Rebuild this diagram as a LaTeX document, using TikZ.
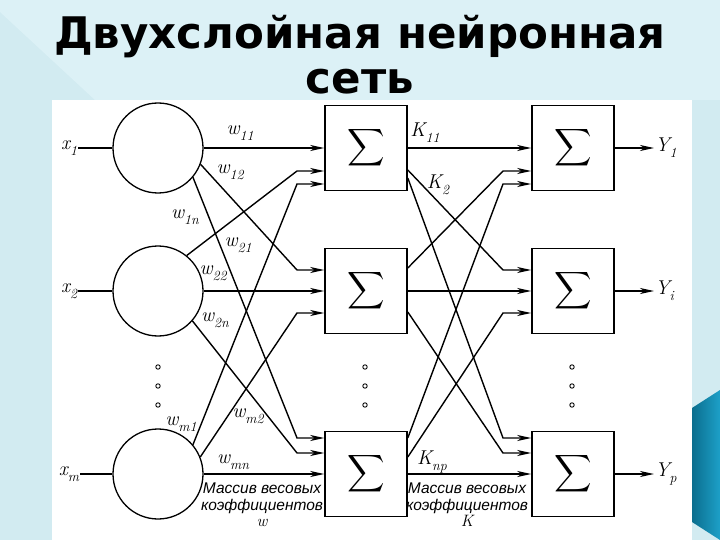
\documentclass[tikz,border=0pt]{standalone}
\usepackage{fontspec}
\usetikzlibrary{arrows.meta,calc}
\newfontfamily\titlefont{DejaVu Sans Bold}
\newfontfamily\captfont{Liberation Sans}
\definecolor{bgc}{HTML}{D2EBF1}
\definecolor{bgl}{HTML}{DCF1F6}
\definecolor{tealA}{HTML}{0B6E8E}
\definecolor{tealB}{HTML}{1DA0C8}
\tikzset{
  wire/.style={line width=1.4pt, black},
  arr/.style={wire, -{Stealth[length=14pt,width=6pt,inset=4pt]}},
  neuron/.style={circle, draw, line width=1.3pt, minimum size=90pt, inner sep=0pt},
  sumbox/.style={rectangle, draw, line width=1.6pt, minimum width=82pt, minimum height=85pt, inner sep=0pt},
  lbl/.style={inner sep=1pt, font=\itshape\fontsize{20}{22}\selectfont},
  dotc/.style={line width=0.9pt},
  arrtext/.style={align=center, inner sep=0pt, font=\captfont\itshape\fontsize{15.5}{16.5}\selectfont},
  titletext/.style={inner sep=0pt, align=center, font=\titlefont\fontsize{43.5}{45}\selectfont}
}
\newcommand{\sumsign}{\scalebox{2.6}{$\displaystyle\sum$}}
\newcommand{\ws}[2]{#1\raisebox{-0.3em}{\fontsize{14}{14}\selectfont #2}}
\newcommand{\bigit}[1]{{\rmfamily\itshape\fontsize{16.5}{16.5}\selectfont #1}}
\begin{document}
\begin{tikzpicture}[x=1pt,y=-1pt]
\useasboundingbox (0,0) rectangle (720,540);
% background
\fill[bgc] (0,0) rectangle (720,540);
\fill[bgl] (0,0) -- (0,12) -- (95,100) -- (720,100) -- (720,0) -- cycle;
\fill[white] (52,100) rectangle (692,540);
\shade[left color=tealA, right color=tealB] (692,408) -- (720,390) -- (720,540) -- (692,522) -- cycle;
% title
\node[titletext, anchor=base] (t1) at (360,94) {Двухслойная нейронная\\сеть};
% input neurons
\node[neuron] (c1) at (158,148) {};
\node[neuron] (c2) at (158,291) {};
\node[neuron] (c3) at (158,474) {};
% layer 1 boxes
\node[sumbox] (b11) at (366,148) {\sumsign};
\node[sumbox] (b12) at (366,291) {\sumsign};
\node[sumbox] (b13) at (366,474) {\sumsign};
% layer 2 boxes
\node[sumbox] (b21) at (573,148) {\sumsign};
\node[sumbox] (b22) at (573,291) {\sumsign};
\node[sumbox] (b23) at (573,474) {\sumsign};
% inputs
\node[lbl] (lx1) at (69,148) {\ws{x}{1}};
\node[lbl] (lx2) at (69,291) {\ws{x}{2}};
\node[lbl] (lx3) at (69,474) {\ws{x}{m}};
\draw[wire] (lx1) -- (c1);
\draw[wire] (lx2) -- (c2);
\draw[wire] (lx3) -- (c3);
% bend coordinates layer 1
\coordinate (p1) at (297,171);
\coordinate (p2) at (297,184);
\coordinate (p3) at (297,270);
\coordinate (p4) at (297,313);
\coordinate (p5) at (297,438);
\coordinate (p6) at (297,453);
% layer 1 connections
\draw[arr] (c1) -- (b11);
\draw[arr] (c2) -- (b12);
\draw[arr] (c3) -- (b13);
\draw[arr] (c2.51) -- (p1) -- (b11.west |- p1);
\draw[arr] (c3.40) -- (p2) -- (b11.west |- p2);
\draw[arr] (c1.-21) -- (p3) -- (b12.west |- p3);
\draw[arr] (c3.22) -- (p4) -- (b12.west |- p4);
\draw[arr] (c1.-40) -- (p5) -- (b13.west |- p5);
\draw[arr] (c2.-41) -- (p6) -- (b13.west |- p6);
% bend coordinates layer 2
\coordinate (q1) at (503,171);
\coordinate (q2) at (503,184);
\coordinate (q3) at (503,270);
\coordinate (q4) at (503,313);
\coordinate (q5) at (503,438);
\coordinate (q6) at (503,453);
% layer 2 connections
\draw[arr] (b11) -- (b21);
\draw[arr] (b12) -- (b22);
\draw[arr] (b13) -- (b23);
\draw[arr] ($(b11.east)+(0,22)$) -- (q3) -- (b22.west |- q3);
\draw[arr] ($(b11.east)+(0,30)$) -- (q5) -- (b23.west |- q5);
\draw[arr] ($(b12.east)+(0,-23)$) -- (q1) -- (b21.west |- q1);
\draw[arr] ($(b12.east)+(0,21)$) -- (q6) -- (b23.west |- q6);
\draw[arr] ($(b13.east)+(0,-36)$) -- (q2) -- (b21.west |- q2);
\draw[arr] ($(b13.east)+(0,-17)$) -- (q4) -- (b22.west |- q4);
% outputs
\node[lbl, anchor=west] (ly1) at (654,148) {\ws{Y}{1}};
\node[lbl, anchor=west] (ly2) at (654,291) {\ws{Y}{i}};
\node[lbl, anchor=west] (ly3) at (654,474) {\ws{Y}{p}};
\draw[arr] (b21) -- (ly1);
\draw[arr] (b22) -- (ly2);
\draw[arr] (b23) -- (ly3);
% weight labels
\node[lbl] (w11) at (240,133) {\ws{w}{11}};
\node[lbl] (w12) at (230,172) {\ws{w}{12}};
\node[lbl] (w1n) at (185,217) {\ws{w}{1n}};
\node[lbl] (w21) at (238,245) {\ws{w}{21}};
\node[lbl] (w22) at (213,273) {\ws{w}{22}};
\node[lbl] (w2n) at (215,320) {\ws{w}{2n}};
\node[lbl] (wm1) at (181,424) {\ws{w}{m1}};
\node[lbl] (wm2) at (248,416) {\ws{w}{m2}};
\node[lbl] (wmn) at (233,462) {\ws{w}{mn}};
\node[lbl] (k11) at (425,133) {\ws{K}{11}};
\node[lbl] (k2) at (438,185) {\ws{K}{2}};
\node[lbl] (knp) at (432,462) {\ws{K}{np}};
% array captions
\node[arrtext] (ma) at (262,505) {Массив весовых\\коэффициентов\\\bigit{w}};
\node[arrtext] (mk) at (467,505) {Массив весовых\\коэффициентов\\\bigit{K}};
% dots
\foreach \yy in {367,386,405} {
  \draw[dotc] (158,\yy) circle (2.2);
  \draw[dotc] (365,\yy) circle (2.2);
  \draw[dotc] (572,\yy) circle (2.2);
}
\end{tikzpicture}
\end{document}
